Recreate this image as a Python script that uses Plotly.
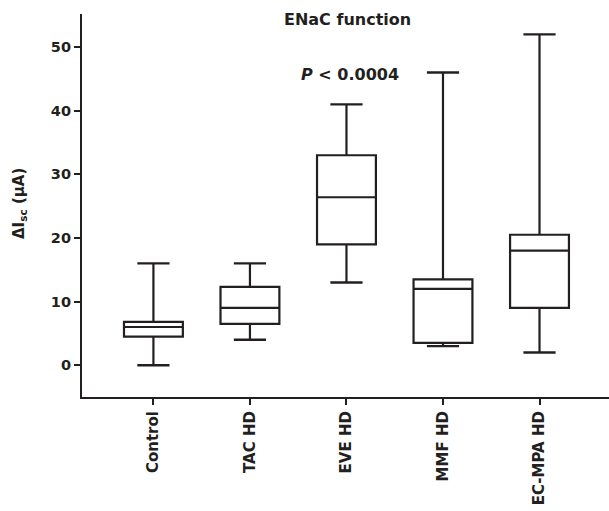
import plotly.graph_objects as go

categories = ["Control", "TAC HD", "EVE HD", "MMF HD", "EC-MPA HD"]
whisker_low = [0, 4, 13, 3, 2]
q1 = [4.5, 6.5, 19.0, 3.5, 9.0]
median = [6.0, 9.0, 26.4, 12.0, 18.0]
q3 = [6.8, 12.3, 33.0, 13.5, 20.5]
whisker_high = [16, 16, 41, 46, 52]
y_ticks = [0, 10, 20, 30, 40, 50]

xpos = list(range(len(categories)))
dark = "#231f20"
font = "DejaVu Sans, sans-serif"

fig = go.Figure()
fig.add_trace(go.Box(
    x=xpos, q1=q1, median=median, q3=q3,
    lowerfence=whisker_low, upperfence=whisker_high,
    width=0.61, whiskerwidth=0,
    line=dict(color=dark, width=2.2),
    fillcolor="rgba(0,0,0,0)",
    boxpoints=False, hoverinfo="skip", showlegend=False,
))
fig.add_trace(go.Scatter(
    x=xpos + xpos, y=whisker_low + whisker_high, mode="markers",
    marker=dict(symbol="line-ew", size=23, line=dict(color=dark, width=2.4)),
    hoverinfo="skip", showlegend=False,
))

fig.update_layout(
    width=609, height=511,
    margin=dict(l=82, r=0, t=14, b=114),
    paper_bgcolor="white", plot_bgcolor="white",
    font=dict(family=font, color=dark, size=14),
    xaxis=dict(
        range=[-0.74, 4.72], tickvals=xpos, ticktext=["<b>%s</b>" % c for c in categories],
        tickangle=-90, showline=True, linecolor=dark, linewidth=2.2,
        ticks="outside", ticklen=6, tickwidth=2, tickcolor=dark,
        showgrid=False, zeroline=False,
        tickfont=dict(family=font, size=15, color=dark),
    ),
    yaxis=dict(
        range=[-5, 55.2], tickvals=y_ticks, ticktext=["<b>%d</b>" % v for v in y_ticks],
        showline=True, linecolor=dark, linewidth=2.2,
        ticks="outside", ticklen=6, tickwidth=2, tickcolor=dark,
        showgrid=False, zeroline=False,
        tickfont=dict(family=font, size=14.5, color=dark),
    ),
    annotations=[
        dict(text="<b>ENaC function</b>", xref="paper", yref="paper",
             x=(347 - 82) / 527, y=(397 - 19.5) / 383, xanchor="center", yanchor="middle",
             showarrow=False, font=dict(family=font, size=16, color=dark)),
        dict(text="<b><i>P</i> &lt; 0.0004</b>", xref="paper", yref="paper",
             x=(350 - 82) / 527, y=(397 - 74) / 383, xanchor="center", yanchor="middle",
             showarrow=False, font=dict(family=font, size=16, color=dark)),
        dict(text="<b>ΔI<sub>sc</sub> (μA)</b>", xref="paper", yref="paper",
             x=(19 - 82) / 527, y=(397 - 204) / 383, xanchor="center", yanchor="middle",
             textangle=-90, showarrow=False, font=dict(family=font, size=15, color=dark)),
    ],
)

fig.write_html("out.html")
